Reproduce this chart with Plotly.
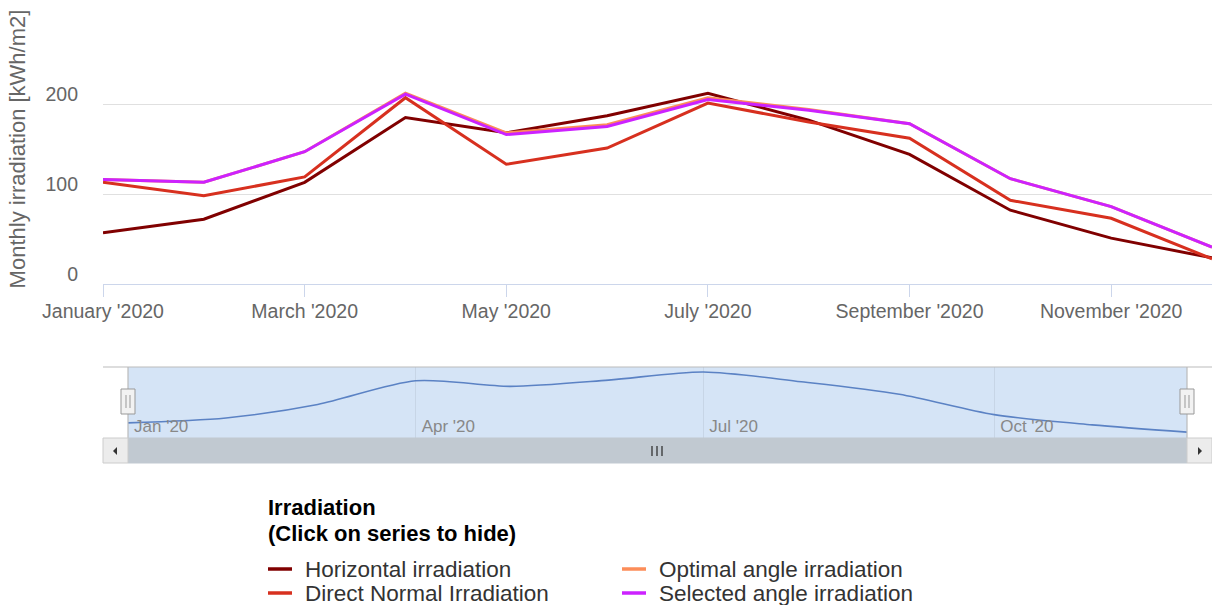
import plotly.graph_objects as go

months = ["January '2020", "February '2020", "March '2020", "April '2020", "May '2020", "June '2020",
          "July '2020", "August '2020", "September '2020", "October '2020", "November '2020", "December '2020"]
month_dates = ["2020-01-01", "2020-02-01", "2020-03-01", "2020-04-01", "2020-05-01", "2020-06-01",
               "2020-07-01", "2020-08-01", "2020-09-01", "2020-10-01", "2020-11-01", "2020-12-01"]

horizontal = [57, 72, 113, 185, 168, 187, 212, 182, 144, 82, 51, 29]
direct_normal = [113, 98, 119, 207, 133, 151, 201, 180, 162, 93, 73, 28]
optimal_angle = [116, 113, 147, 212, 168, 177, 207, 194, 178, 117, 86, 41]
selected_angle = [116, 113, 147, 211, 166, 175, 205, 193, 178, 117, 86, 41]

series_names = ["Horizontal irradiation", "Optimal angle irradiation",
                "Direct Normal Irradiation", "Selected angle irradiation"]
series_colors = ["#800000", "#fc8d59", "#d7301f", "#cc22ff"]
series_values = [horizontal, optimal_angle, direct_normal, selected_angle]

y_tickvals = [0, 100, 200, 300]
y_ticktext = ["0", "100", "200", ""]
nav_tickvals = ["2020-01-01", "2020-04-01", "2020-07-01", "2020-10-01"]
nav_ticktext = ["Jan '20", "Apr '20", "Jul '20", "Oct '20"]

FONT = "Liberation Sans, Arial, sans-serif"
W, H = 1212, 605
PL, PR, PT, PB = 103, 1212, 14, 463


def px(x):
    return (x - PL) / (PR - PL)


def py(y):
    return (PB - y) / (PB - PT)


fig = go.Figure()
for name, vals, col in zip(series_names, series_values, series_colors):
    fig.add_trace(go.Scatter(x=months, y=vals, name=name, mode="lines",
                             line=dict(color=col, width=3), xaxis="x", yaxis="y"))

# navigator series
fig.add_trace(go.Scatter(x=month_dates, y=horizontal, mode="lines", showlegend=False,
                         line=dict(color="#5b82c4", width=1.6, shape="spline", smoothing=0.8),
                         xaxis="x2", yaxis="y2", hoverinfo="skip"))

shapes = []
annotations = []
# navigator mask
shapes.append(dict(type="rect", xref="paper", yref="paper", x0=px(128), x1=px(1187), y0=py(438), y1=py(367),
                   fillcolor="#d5e4f6", line=dict(width=0), layer="below"))
# outline
shapes.append(dict(type="line", xref="paper", yref="paper", x0=px(103), x1=px(1212), y0=py(367), y1=py(367),
                   line=dict(color="#bbbbbb", width=1.2)))
for xx in (128, 1187):
    shapes.append(dict(type="line", xref="paper", yref="paper", x0=px(xx), x1=px(xx), y0=py(367), y1=py(438),
                       line=dict(color="#bbbbbb", width=1.2)))
# scrollbar bar
shapes.append(dict(type="rect", xref="paper", yref="paper", x0=px(128), x1=px(1187), y0=py(463), y1=py(438),
                   fillcolor="#c1c9d1", line=dict(color="#c1c9d1", width=1)))
# buttons
for x0, x1 in ((103, 128), (1187, 1212)):
    shapes.append(dict(type="rect", xref="paper", yref="paper", x0=px(x0), x1=px(x1), y0=py(463), y1=py(438),
                       fillcolor="#ececec", line=dict(color="#cccccc", width=1)))
# arrows
shapes.append(dict(type="path", xref="paper", yref="paper",
                   path=f"M {px(113)} {py(451)} L {px(117)} {py(447)} L {px(117)} {py(455)} Z",
                   fillcolor="#333333", line=dict(width=0)))
shapes.append(dict(type="path", xref="paper", yref="paper",
                   path=f"M {px(1202)} {py(451)} L {px(1198)} {py(447)} L {px(1198)} {py(455)} Z",
                   fillcolor="#333333", line=dict(width=0)))
# rifles
for xx in (652, 657, 662):
    shapes.append(dict(type="line", xref="paper", yref="paper", x0=px(xx), x1=px(xx), y0=py(446), y1=py(456),
                       line=dict(color="#333333", width=1.3)))
# handles
for cx in (128, 1187):
    shapes.append(dict(type="rect", xref="paper", yref="paper", x0=px(cx - 7), x1=px(cx + 7), y0=py(414), y1=py(389),
                       fillcolor="#f2f2f2", line=dict(color="#999999", width=1)))
    for dx in (-2, 2):
        shapes.append(dict(type="line", xref="paper", yref="paper", x0=px(cx + dx), x1=px(cx + dx),
                           y0=py(395), y1=py(408), line=dict(color="#999999", width=1)))

# legend (drawn as text + symbol lines, 2 columns)
annotations.append(dict(xref="paper", yref="paper", x=px(266), y=py(507), xanchor="left", yanchor="middle",
                        text="<b>Irradiation</b>", showarrow=False,
                        font=dict(family=FONT, size=22, color="#000000")))
annotations.append(dict(xref="paper", yref="paper", x=px(266), y=py(533), xanchor="left", yanchor="middle",
                        text="<b>(Click on series to hide)</b>", showarrow=False,
                        font=dict(family=FONT, size=22, color="#000000")))
legend_cols = [268, 622, 268, 622]
legend_rows = [569, 569, 593, 593]
for name, col, lx, ly in zip(series_names, series_colors, legend_cols, legend_rows):
    shapes.append(dict(type="line", xref="paper", yref="paper", x0=px(lx), x1=px(lx + 24), y0=py(ly), y1=py(ly),
                       line=dict(color=col, width=3.5)))
    annotations.append(dict(xref="paper", yref="paper", x=px(lx + 35), y=py(ly), xanchor="left", yanchor="middle",
                            text=name, showarrow=False,
                            font=dict(family=FONT, size=22.5, color="#333333")))

fig.update_layout(
    width=W, height=H,
    margin=dict(l=PL, r=W - PR, t=PT, b=H - PB),
    paper_bgcolor="white", plot_bgcolor="white",
    font=dict(family=FONT, color="#666666", size=19),
    showlegend=False,
    shapes=shapes,
    annotations=annotations,
    xaxis=dict(type="category", range=[0, 11], domain=[0, 1], anchor="y", automargin=False,
               tickmode="array", tickvals=months[::2], ticktext=months[::2],
               showgrid=False, showline=True, linecolor="#ccd6eb", linewidth=1.2,
               ticks="outside", ticklen=12, tickcolor="#ccd6eb", tickwidth=1.2, ticklabelstandoff=-3,
               tickfont=dict(size=19.5, color="#666666"), zeroline=False, fixedrange=True),
    yaxis=dict(domain=[py(284), 1], anchor="x", range=[0, 300], automargin=False,
               tickmode="array", tickvals=y_tickvals, ticktext=y_ticktext,
               showgrid=True, gridcolor="#e0e0e0", gridwidth=1.2, zeroline=False, showline=False,
               ticks="", ticklabelstandoff=24, ticklabelshift=-10,
               tickfont=dict(size=19.5, color="#666666"),
               title=dict(text="Monthly irradiation [kWh/m2]", font=dict(size=22, color="#666666"), standoff=13),
               fixedrange=True),
    xaxis2=dict(type="date", domain=[px(128), px(1187)], anchor="y2", automargin=False,
                range=["2020-01-01", "2020-12-01"], tickmode="array",
                tickvals=nav_tickvals, ticktext=nav_ticktext,
                ticklabelposition="inside right", ticks="", ticklabelstandoff=-3, ticklabelshift=6,
                showgrid=True, gridcolor="#c7d5e6", gridwidth=1.2, showline=False, zeroline=False,
                tickfont=dict(size=17, color="#888888"), fixedrange=True),
    yaxis2=dict(domain=[py(438), py(367)], anchor="x2", range=[11, 227], automargin=False,
                showticklabels=False, showgrid=False, zeroline=False, showline=False, fixedrange=True),
)

fig.write_html("out.html", config={"displayModeBar": False},
               post_script="document.body.style.margin='0';")
